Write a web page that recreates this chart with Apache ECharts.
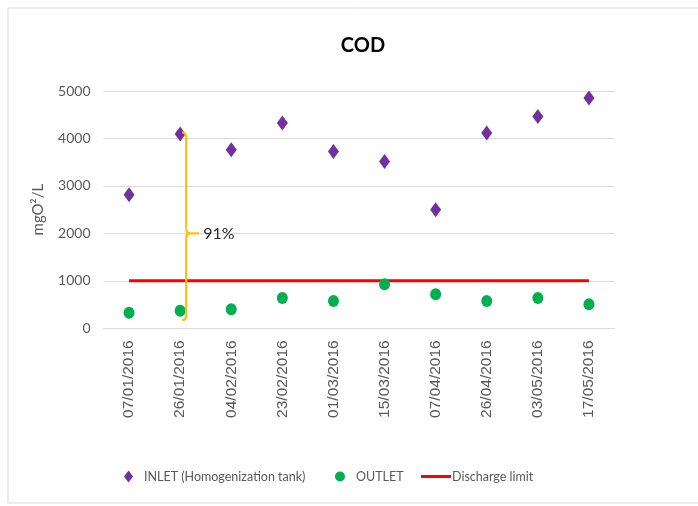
<!DOCTYPE html>
<html><head><meta charset="utf-8">
<script src="https://cdn.jsdelivr.net/npm/echarts@6/dist/echarts.min.js"></script>
<style>html,body{margin:0;padding:0;background:#fff}#c{width:698px;height:506px}</style>
</head><body><div id="c"></div>
<script>
const categories = ['07/01/2016','26/01/2016','04/02/2016','23/02/2016','01/03/2016','15/03/2016','07/04/2016','26/04/2016','03/05/2016','17/05/2016'];
const inlet = [2812, 4093, 3762, 4325, 3726, 3515, 2496, 4114, 4464, 4852];
const outlet = [330, 371, 400, 640, 576, 928, 717, 576, 640, 506];
const dischargeLimit = [1000, 1000, 1000, 1000, 1000, 1000, 1000, 1000, 1000, 1000];
const yTicks = [0, 1000, 2000, 3000, 4000, 5000];
const bracketCategory = 1;
const bracketTop = 4127;
const bracketMid = 2000;
const bracketBottom = 170;
const reductionLabel = '91%';

const chart = echarts.init(document.getElementById('c'));
const grey = '#595959';
chart.setOption({
  animation: false,
  title: { text: 'COD', left: 358, top: 31, textAlign: 'center',
    textStyle: { fontFamily: 'Lato', fontWeight: 'bold', fontSize: 20, color: '#000' } },
  graphic: [{ type: 'rect', shape: { x: 8, y: 8, width: 700, height: 495 },
    style: { fill: 'none', stroke: '#d9d9d9', lineWidth: 1 }, silent: true }],
  grid: { left: 103.5, right: 83.5, top: 91, bottom: 177.7 },
  xAxis: { type: 'category', data: categories, boundaryGap: true,
    axisLine: { show: true, lineStyle: { color: '#d9d9d9' } }, axisTick: { show: false },
    axisLabel: { rotate: 90, margin: 12, fontFamily: 'Liberation Sans', fontSize: 15.5, color: grey } },
  yAxis: { type: 'value', min: yTicks[0], max: yTicks[yTicks.length - 1], interval: 1000,
    name: 'mgO\u00b2/L', nameLocation: 'middle', nameGap: 58, nameRotate: 90,
    nameTextStyle: { fontFamily: 'Lato', fontSize: 15, color: grey },
    axisLine: { show: false }, axisTick: { show: false },
    axisLabel: { margin: 13, fontFamily: 'Lato', fontSize: 14, color: grey, formatter: v => String(v) },
    splitLine: { lineStyle: { color: '#d9d9d9', width: 1 } } },
  legend: [
    { data: [{ name: 'INLET (Homogenization tank)', icon: 'diamond' }], left: 119, top: 465, itemWidth: 9, itemHeight: 12,
      textStyle: { fontFamily: 'Lato', fontSize: 12.5, color: grey, padding: [0,0,0,6] } },
    { data: [{ name: 'OUTLET', icon: 'circle' }], left: 330, top: 465, itemWidth: 10, itemHeight: 12,
      textStyle: { fontFamily: 'Lato', fontSize: 12.5, color: grey, padding: [0,0,0,6] } },
    { data: [{ name: 'Discharge limit', icon: 'path://M0,0 L0.01,0 L0.01,0.01 Z M0,4.5 L30,4.5 L30,7.5 L0,7.5 Z M29.99,11.99 L30,12 L29.99,12 Z' }],
      left: 416, top: 465, itemWidth: 30, itemHeight: 12,
      textStyle: { fontFamily: 'Lato', fontSize: 12.5, color: grey, padding: [0,0,0,-4] } }
  ],
  series: [
    { name: 'Discharge limit', type: 'line', data: dischargeLimit, symbol: 'none',
      lineStyle: { color: '#ff0000', width: 3 }, itemStyle: { color: '#ff0000' }, z: 2 },
    { name: 'INLET (Homogenization tank)', type: 'scatter', data: inlet, symbol: 'diamond',
      symbolSize: [11, 15], itemStyle: { color: '#7030a0', opacity: 1 }, z: 3 },
    { name: 'OUTLET', type: 'scatter', data: outlet, symbol: 'circle',
      symbolSize: [11, 12], itemStyle: { color: '#00b050', opacity: 1 }, z: 3 },
    { name: 'bracket', type: 'custom', z: 5, silent: true,
      data: [[bracketCategory, bracketTop, bracketMid, bracketBottom]],
      encode: { x: 0, y: [1, 2, 3] },
      renderItem: function (params, api) {
        const t = api.coord([api.value(0), api.value(1)]);
        const m = api.coord([api.value(0), api.value(2)]);
        const b = api.coord([api.value(0), api.value(3)]);
        const x0 = t[0] + 6, yT = t[1], yB = b[1], yM = m[1], r = 5;
        const st = { stroke: '#ffc000', lineWidth: 2.2, fill: 'none' };
        return { type: 'group', children: [
          { type: 'bezierCurve', shape: { x1: x0 - 4, y1: yT, x2: x0, y2: yT + r, cpx1: x0, cpy1: yT }, style: st },
          { type: 'line', shape: { x1: x0, y1: yT + r, x2: x0, y2: yM - r }, style: st },
          { type: 'bezierCurve', shape: { x1: x0, y1: yM - r, x2: x0 + 4, y2: yM, cpx1: x0, cpy1: yM }, style: st },
          { type: 'bezierCurve', shape: { x1: x0 + 4, y1: yM, x2: x0, y2: yM + r, cpx1: x0, cpy1: yM }, style: st },
          { type: 'line', shape: { x1: x0 + 4, y1: yM, x2: x0 + 13, y2: yM }, style: st },
          { type: 'line', shape: { x1: x0, y1: yM + r, x2: x0, y2: yB - r }, style: st },
          { type: 'bezierCurve', shape: { x1: x0, y1: yB - r, x2: x0 - 4, y2: yB, cpx1: x0, cpy1: yB }, style: st },
          { type: 'text', style: { x: x0 + 17, y: yM, text: reductionLabel, fill: '#262626',
            font: '16px Lato', verticalAlign: 'middle', align: 'left' } }
        ] };
      } }
  ]
});
</script></body></html>
